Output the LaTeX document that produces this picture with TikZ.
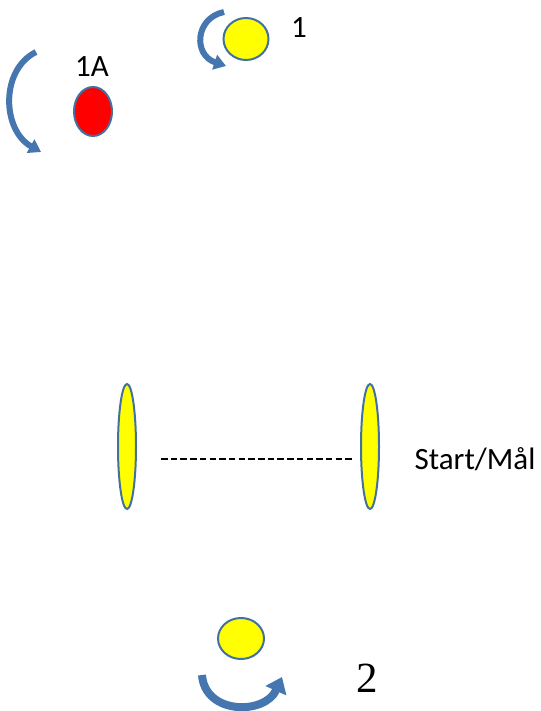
\documentclass[tikz,border=0pt]{standalone}
\usepackage{fontspec}
\setmainfont{Carlito}
\newfontfamily\serifnum{Liberation Serif}
\usepackage{xcolor}
\usetikzlibrary{shapes.geometric,arrows.meta}
\definecolor{rimblue}{RGB}{65,113,156}
\definecolor{arrowblue}{RGB}{70,118,176}
\definecolor{ballyellow}{RGB}{255,255,0}
\definecolor{ballred}{RGB}{255,0,0}
\tikzset{
  ball/.style={ellipse, draw=rimblue, line width=2pt, inner sep=0pt},
  lbl/.style={anchor=base, inner sep=0pt, font=\fontsize{31}{37}\selectfont},
  turn/.style={draw=arrowblue, line width=6pt, -{Triangle[width=15pt,length=12pt]}},
  dashline/.style={line width=1.4pt, dash pattern=on 6.5pt off 3.2pt}
}
\begin{document}
\begin{tikzpicture}[x=1pt,y=-1pt]
\useasboundingbox (0,0) rectangle (540,711);
% balls
\node[ball, fill=ballyellow, minimum width=45pt, minimum height=42pt] (b1) at (246,39) {};
\node[ball, fill=ballred, minimum width=38pt, minimum height=49pt] (b1A) at (93,111.5) {};
\node[ball, fill=ballyellow, minimum width=46pt, minimum height=41pt] (b2) at (241,638.5) {};
% start/finish gates
\node[ball, fill=ballyellow, minimum width=18pt, minimum height=125pt] (gL) at (127,446.5) {};
\node[ball, fill=ballyellow, minimum width=18pt, minimum height=125pt] (gR) at (370,446.5) {};
\draw[dashline] ([shift={(24pt,-12.5pt)}]gL.east) -- ([shift={(-8pt,-12.5pt)}]gR.west);
% labels
\node[lbl] (t1) at (299,38) {1};
\node[lbl] (t1A) at (92,77) {1A};
\node[lbl] (tStart) at (475,469) {Start/Mål};
\node[anchor=base, inner sep=0pt, font=\serifnum\fontsize{43}{50}\selectfont] (t2) at (367,692) {2};
% turning arrows
\draw[turn] (36,52) .. controls (0,70) and (2,130) .. (41,152);
\draw[turn] (224,12) .. controls (195,18) and (193,55) .. (226,66);
\draw[turn, line width=8pt, -{Triangle[width=22pt,length=15pt]}] (202,675) .. controls (205,715) and (265,715) .. (282,677);
\end{tikzpicture}
\end{document}
